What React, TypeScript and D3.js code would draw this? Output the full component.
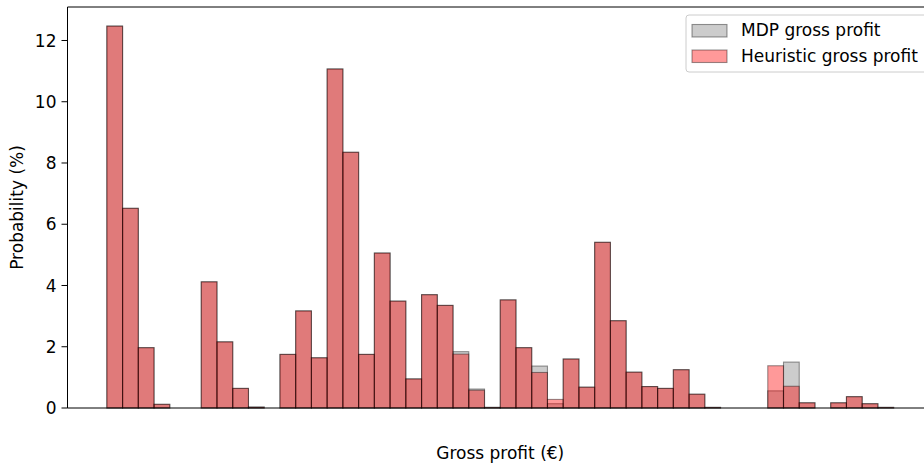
import * as d3 from 'd3';

// histogram bins (index of bin along gross profit), probability in %
const binIndex = d3.range(50);
const mdpValues = [
  12.47, 6.52, 1.97, 0.12, 0, 0, 4.12, 2.16, 0.64, 0.03,
  0, 1.75, 3.17, 1.64, 11.07, 8.35, 1.75, 5.06, 3.49, 0.95,
  3.7, 3.35, 1.84, 0.62, 0.02, 3.53, 1.97, 1.37, 0.14, 1.6,
  0.68, 5.41, 2.85, 1.17, 0.7, 0.64, 1.25, 0.45, 0.02, 0,
  0, 0, 0.56, 1.5, 0.17, 0, 0.17, 0.37, 0.14, 0.02,
];
const heuristicValues = [
  12.47, 6.52, 1.97, 0.12, 0, 0, 4.12, 2.16, 0.64, 0.03,
  0, 1.75, 3.17, 1.64, 11.07, 8.35, 1.75, 5.06, 3.49, 0.95,
  3.7, 3.35, 1.76, 0.58, 0.02, 3.53, 1.97, 1.16, 0.28, 1.6,
  0.68, 5.41, 2.85, 1.17, 0.7, 0.64, 1.25, 0.45, 0.02, 0,
  0, 0, 1.38, 0.71, 0.17, 0, 0.17, 0.37, 0.14, 0.02,
];
const yTicks = [0, 2, 4, 6, 8, 10, 12];
const seriesNames = ['MDP gross profit', 'Heuristic gross profit'];

const width = 924;
const height = 465;
const margin = { top: 7, right: -9, bottom: 57, left: 67.5 };
const font = 'DejaVu Sans, sans-serif';
const fontSize = 17;

const series = [
  { name: seriesNames[0], values: mdpValues, fill: 'rgba(128,128,128,0.4)' },
  { name: seriesNames[1], values: heuristicValues, fill: 'rgba(255,0,0,0.4)' },
];

export default function App() {
  const x = d3.scaleLinear()
    .domain([-2.5, binIndex.length + 2.5]) // matplotlib-like 5% margins
    .range([margin.left, width - margin.right]);
  const maxVal = d3.max([...mdpValues, ...heuristicValues]) as number;
  const y = d3.scaleLinear()
    .domain([0, maxVal * 1.05])
    .range([height - margin.bottom, margin.top]);

  const bottom = y(0);
  const plotRight = width - margin.right;

  return (
    <svg width={width} height={height} style={{ position: 'absolute', left: 0, top: 0, background: '#fff' }}>
      <rect x={0} y={0} width={width} height={height} fill="#fff" />

      {series.map(s => (
        <g key={s.name}>
          {binIndex.filter(i => s.values[i] > 0).map(i => (
            <rect
              key={i}
              x={x(i)}
              y={y(s.values[i])}
              width={x(i + 1) - x(i)}
              height={bottom - y(s.values[i])}
              fill={s.fill}
              stroke="rgba(0,0,0,0.4)"
              strokeWidth={1.1}
            />
          ))}
        </g>
      ))}

      {/* spines */}
      <line x1={margin.left} x2={margin.left} y1={margin.top} y2={bottom} stroke="#000" strokeWidth={1} />
      <line x1={margin.left} x2={plotRight} y1={bottom} y2={bottom} stroke="#000" strokeWidth={1} />
      <line x1={margin.left} x2={plotRight} y1={margin.top} y2={margin.top} stroke="#000" strokeWidth={1} />

      {/* y ticks */}
      {yTicks.map(t => (
        <g key={t}>
          <line x1={margin.left - 6} x2={margin.left} y1={y(t)} y2={y(t)} stroke="#000" strokeWidth={1} />
          <text x={margin.left - 11} y={y(t)} dy="0.36em" textAnchor="end" fontFamily={font} fontSize={fontSize} fill="#000">
            {t}
          </text>
        </g>
      ))}

      <text
        transform={`translate(22.5, ${(margin.top + bottom) / 2}) rotate(-90)`}
        textAnchor="middle"
        fontFamily={font}
        fontSize={fontSize}
        fill="#000"
      >
        Probability (%)
      </text>
      <text x={(margin.left + plotRight) / 2} y={459} textAnchor="middle" fontFamily={font} fontSize={fontSize} fill="#000">
        Gross profit (€)
      </text>

      {/* legend */}
      <g>
        <rect x={686} y={15} width={245} height={57} rx={3} fill="rgba(255,255,255,0.8)" stroke="#ccc" strokeWidth={1} />
        {series.map((s, i) => (
          <g key={s.name}>
            <rect x={692} y={24.5 + i * 25.5} width={35} height={12.5} fill={s.fill} stroke="rgba(0,0,0,0.4)" strokeWidth={1.1} />
            <text x={741} y={36 + i * 26} fontFamily={font} fontSize={fontSize} fill="#000">
              {s.name}
            </text>
          </g>
        ))}
      </g>
    </svg>
  );
}
